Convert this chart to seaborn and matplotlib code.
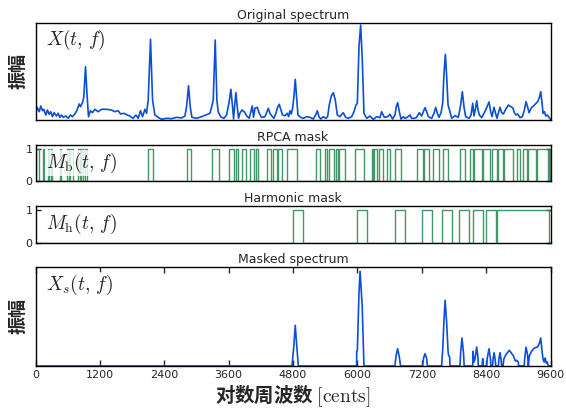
import numpy as np
import pandas as pd
import matplotlib
matplotlib.use("Agg")
import matplotlib.pyplot as plt
import seaborn as sns

# ---------------- data ----------------
# Original spectrum: frequency [cents] and amplitude (arbitrary units)
orig_cents = [0, 6, 30, 68, 99, 130, 155, 192, 223, 254, 285, 316, 348, 391, 422, 453, 484, 515, 565, 609,
              652, 690, 733, 776, 814, 839, 876, 901, 932, 963, 988, 1025, 1062, 1106, 1168, 1230, 1324, 1417,
              1479, 1541, 1585, 1647, 1709, 1759, 1821, 1871, 1914, 1958, 1995, 2039, 2070, 2101, 2144, 2182,
              2225, 2287, 2350, 2443, 2536, 2629, 2722, 2785, 2816, 2853, 2884, 2915, 3002, 3096, 3176, 3251,
              3282, 3313, 3350, 3381, 3406, 3450, 3512, 3562, 3605, 3642, 3673, 3692, 3711, 3736, 3760, 3785,
              3810, 3848, 3891, 3935, 3984, 4015, 4040, 4065, 4090, 4134, 4171, 4214, 4276, 4308, 4339, 4370,
              4401, 4444, 4482, 4513, 4544, 4575, 4606, 4650, 4693, 4718, 4743, 4768, 4793, 4817, 4842, 4867,
              4892, 4942, 4992, 5054, 5116, 5178, 5222, 5253, 5284, 5315, 5365, 5414, 5445, 5476, 5514, 5551,
              5588, 5626, 5675, 5737, 5781, 5831, 5893, 5937, 5974, 5999, 6030, 6061, 6092, 6123, 6173, 6235,
              6297, 6359, 6421, 6452, 6502, 6564, 6608, 6658, 6701, 6726, 6751, 6782, 6813, 6856, 6888, 6931,
              6981, 7012, 7062, 7105, 7155, 7198, 7229, 7261, 7292, 7323, 7385, 7428, 7460, 7491, 7522, 7559,
              7590, 7615, 7640, 7665, 7690, 7721, 7758, 7820, 7882, 7920, 7957, 7988, 8019, 8081, 8119, 8150,
              8174, 8206, 8224, 8249, 8274, 8317, 8361, 8392, 8423, 8454, 8485, 8510, 8547, 8579, 8603, 8635,
              8659, 8690, 8721, 8765, 8815, 8858, 8896, 8927, 8958, 8989, 9032, 9076, 9113, 9144, 9175, 9200,
              9238, 9269, 9300, 9331, 9362, 9393, 9418, 9443, 9461, 9486, 9511, 9542, 9573, 9600]
orig_amp = [6.7, 6.7, 12.7, 8.3, 14, 9.3, 10.7, 5, 10, 5.7, 8.3, 3.3, 7.3, 4, 6.7, 2.7, 5, 2.7, 4, 1.7,
            5, 3.3, 6, 10, 16, 13.3, 17.3, 23.3, 53.3, 23.3, 3.3, 9.3, 7.3, 10.7, 8.3, 10.7, 10.7, 10,
            8.3, 9.3, 6, 6.7, 5, 4, 1.7, 5, 1.7, 9.3, 3.3, 10.7, 6.7, 20, 80.7, 20,
            5, 2.7, 0.7, 1.7, 1.3, 2.7, 2, 4, 13.3, 34.3, 13.3, 2.7, 1.7, 3.3, 5, 6.7,
            12.7, 20, 80, 20, 8.3, 3.3, 1.7, 5, 16.7, 30.7, 13.3, 1, 13.3, 27.3, 13.3, 1.7,
            6.7, 10, 8.3, 4.3, 1.7, 8.3, 14, 2.7, 11.7, 12.7, 6.7, 2.7, 3.3, 7.3, 11.7, 6.7,
            4.3, 1.7, 6.7, 12.7, 15.7, 10, 5, 4.3, 6.7, 3.3, 9.3, 6, 11.7, 23.3, 40.7, 23.3,
            5, 2.7, 1.7, 3.3, 2.7, 1, 5, 9.3, 3.3, 1, 3.3, 1.7, 3.3, 15, 24, 27.3,
            20, 5, 3.3, 7.3, 2.7, 1.7, 3.3, 8.3, 15, 16.7, 73.3, 95, 60, 6.7, 1.7, 4,
            0.7, 3.3, 2.3, 8.3, 2.7, 3.3, 5.7, 1, 5, 13.3, 17.3, 8.3, 1, 3.3, 1.7, 2.7,
            5, 1.7, 1.7, 2.7, 7.3, 4, 8.3, 12.3, 8.3, 3.3, 1.7, 6.7, 12.7, 6.7, 2.7, 7.3,
            16.7, 46.7, 65.7, 43.3, 15, 9.3, 1.7, 4.3, 2.7, 13.3, 28.3, 12.7, 3.3, 1.7, 5, 16.7,
            4, 12.7, 19.3, 10, 5, 2.3, 6.7, 10, 14, 18, 8.3, 3.3, 12.7, 6, 1.7, 8.3,
            12.7, 7.3, 6, 10.7, 15, 13.3, 12.3, 7.3, 5, 6, 2.3, 3.3, 10, 18.3, 12.7, 7.3,
            11.7, 13.3, 15, 16.7, 18.3, 22.7, 28.3, 16.7, 6.7, 8.3, 4, 5, 2.7, 0.7]

# RPCA mask: intervals [start, end] in cents where the mask is 1
rpca_start = [18, 142, 236, 298, 453, 590, 652, 783, 857, 919, 2101, 2816, 3282, 3605, 3730, 3841, 3997,
              4109, 4320, 4420, 4525, 4693, 5228, 5396, 5477, 5601, 5663, 5955, 6266, 6316, 6397, 6546,
              6701, 7118, 7242, 7416, 7590, 7914, 8100, 8181, 8349, 8504, 8629, 8734, 8971, 9095, 9188,
              9356, 9567]
rpca_end = [68, 161, 254, 316, 484, 627, 690, 826, 888, 963, 2194, 2890, 3425, 3698, 3780, 3922, 4071,
            4152, 4382, 4494, 4587, 4880, 5303, 5427, 5564, 5632, 5769, 6123, 6297, 6372, 6484, 6608,
            6807, 7217, 7342, 7528, 7696, 8007, 8162, 8318, 8473, 8597, 8722, 8909, 9033, 9170, 9331,
            9561, 9586]

# Harmonic mask intervals
harm_start = [4793, 5986, 6701, 7199, 7572, 7901, 8162, 8399, 8598]
harm_end = [4979, 6185, 6888, 7385, 7771, 8088, 8349, 8585, 9580]

# Masked spectrum
masked_cents = [0, 4780, 4790, 4815, 4842, 4870, 4895, 4900, 5985, 5988, 6000, 6030, 6050, 6090, 6120,
                6125, 6700, 6720, 6751, 6785, 6805, 7215, 7235, 7260, 7290, 7305, 7570, 7590, 7615, 7635,
                7665, 7690, 7700, 7720, 7727, 7912, 7925, 7950, 7980, 7990, 8150, 8155, 8175, 8193, 8224,
                8245, 8255, 8325, 8336, 8345, 8410, 8420, 8454, 8480, 8490, 8520, 8530, 8548, 8570, 8580,
                8630, 8640, 8659, 8680, 8690, 8715, 8730, 8765, 8833, 8870, 8910, 8945, 8970, 9000, 9005,
                9110, 9120, 9144, 9170, 9188, 9190, 9205, 9240, 9275, 9300, 9360, 9395, 9418, 9440, 9460,
                9480, 9500, 9520, 9540, 9560, 9600]
masked_amp = [0, 0, 5, 20, 40.7, 20, 3, 0, 0, 14.7, 16, 73, 94.7, 60, 5,
              0, 0, 10, 17.3, 8, 0, 0, 8, 12.3, 8, 0, 0, 16, 46, 65.7,
              43, 15, 10.7, 9, 0, 0, 13, 28, 12, 0, 0, 14.7, 4, 7, 19,
              10, 0, 0, 7.3, 0, 0, 7.3, 17.3, 7, 0, 0, 7, 13.3, 6, 0,
              0, 8, 13.3, 6, 0, 0, 7, 11, 15.7, 13, 10, 5, 5.7, 4, 0,
              0, 8, 18.7, 12, 0, 2, 10, 14, 16.7, 18, 19, 23, 28, 16, 7,
              4, 8, 3, 4, 0, 0]

xtick_vals = [0, 1200, 2400, 3600, 4800, 6000, 7200, 8400, 9600]


def mask_steps(starts, ends):
    xs, ys = [0], [0]
    for s, e in zip(starts, ends):
        xs += [s, e]
        ys += [1, 0]
    xs.append(9600)
    ys.append(0)
    return pd.DataFrame({"cents": xs, "mask": ys})


# ---------------- style ----------------
sns.set_style("white")
plt.rcParams["font.family"] = ["DejaVu Sans", "Noto Sans CJK SC"]
plt.rcParams["mathtext.fontset"] = "cm"
plt.rcParams["xtick.direction"] = "in"
plt.rcParams["ytick.direction"] = "in"

BLUE = "#0a4fd6"
GREEN = "#2e8b57"
CJK = ["Noto Sans CJK SC", "DejaVu Sans"]

W, H = 566, 409
fig = plt.figure(figsize=(W / 100, H / 100), dpi=100)


def add_ax(top_px, bot_px, left_px=35.5, right_px=550.5):
    return fig.add_axes([left_px / W, 1 - bot_px / H, (right_px - left_px) / W, (bot_px - top_px) / H])


ax1 = add_ax(22.7, 120)
ax2 = add_ax(144.7, 180.7)
ax3 = add_ax(206, 242.7)
ax4 = add_ax(267, 366)

df_orig = pd.DataFrame({"cents": orig_cents, "amp": orig_amp})
df_mask = pd.DataFrame({"cents": masked_cents, "amp": masked_amp})

sns.lineplot(data=df_orig, x="cents", y="amp", ax=ax1, color=BLUE, lw=1.2,
             estimator=None, sort=False)
sns.lineplot(data=mask_steps(rpca_start, rpca_end), x="cents", y="mask", ax=ax2, color=GREEN,
             lw=1.0, estimator=None, sort=False, drawstyle="steps-post", alpha=0.9)
sns.lineplot(data=mask_steps(harm_start, harm_end), x="cents", y="mask", ax=ax3, color=GREEN,
             lw=1.0, estimator=None, sort=False, drawstyle="steps-post", alpha=0.9)
sns.lineplot(data=df_mask, x="cents", y="amp", ax=ax4, color=BLUE, lw=1.2,
             estimator=None, sort=False)

ax1.set_ylim(0, 97.3)
ax4.set_ylim(0, 99)
for ax in (ax2, ax3):
    ax.set_ylim(0, 1.13)
    ax.set_yticks([0, 1])
    ax.tick_params(axis="y", labelsize=8, length=3.5, width=1, left=True, right=True, pad=2)

titles = ["Original spectrum", "RPCA mask", "Harmonic mask", "Masked spectrum"]
labels = [r"$X(t,\,f)$", r"$M_{\mathrm{b}}(t,\,f)$", r"$M_{\mathrm{h}}(t,\,f)$", r"$X_s(t,\,f)$"]
for ax, t, lab in zip((ax1, ax2, ax3, ax4), titles, labels):
    ax.set_xlim(0, 9600)
    ax.set_title(t, fontsize=9, pad=3)
    ax.set_xlabel("")
    ax.set_ylabel("")
    for s in ax.spines.values():
        s.set_visible(True)
        s.set_color("black")
        s.set_linewidth(1.0)
    ax.text(0.02, 0.82 if ax in (ax1, ax4) else 0.5, lab, transform=ax.transAxes,
            fontsize=14, va="center", ha="left", zorder=5,
            bbox=dict(facecolor="white", edgecolor="none", alpha=0.8, pad=0.5))

for ax in (ax1, ax2, ax3):
    ax.set_xticks([])
for ax in (ax1, ax4):
    ax.set_yticks([])
    ax.set_ylabel("振幅", family=CJK, fontsize=13, fontweight="bold", labelpad=6)

ax4.set_xticks(xtick_vals)
ax4.set_xticklabels([str(v) for v in xtick_vals], fontsize=8)
ax4.tick_params(axis="x", length=4, width=1, top=True, bottom=True, pad=3)
ax4.set_xlabel(r"对数周波数 $[\mathrm{cents}]$", family=CJK, fontsize=14, fontweight="bold", labelpad=2)

fig.savefig("out.png", dpi=100)
